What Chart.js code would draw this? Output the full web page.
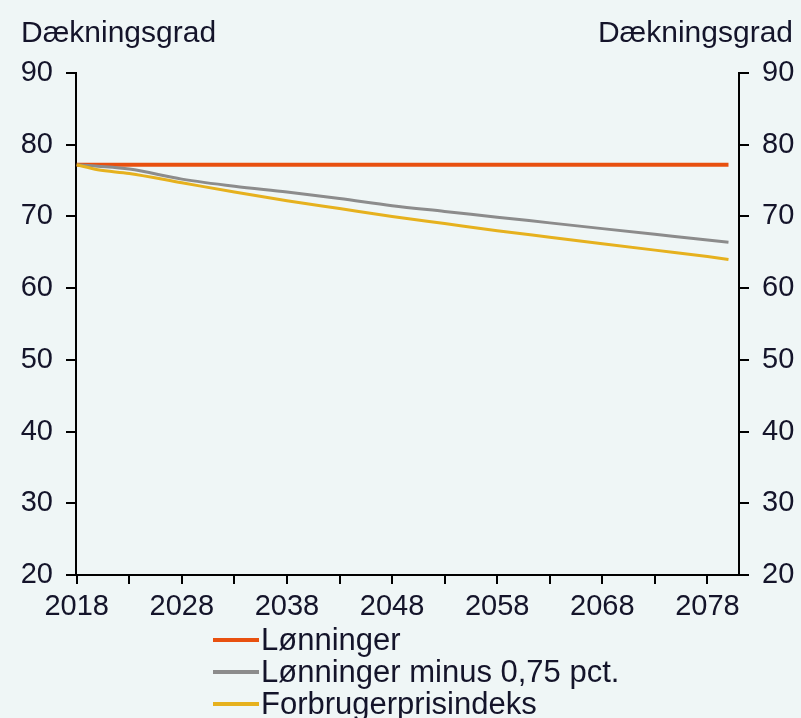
<!DOCTYPE html>
<html>
<head>
<meta charset="utf-8">
<script src="https://cdn.jsdelivr.net/npm/chart.js@4/dist/chart.umd.min.js"></script>
<style>
  html, body { margin: 0; padding: 0; background: #eff6f6; }
  #wrap { width: 801px; height: 718px; }
</style>
</head>
<body>
<div id="wrap"><canvas id="chart" width="801" height="718"></canvas></div>
<script>
// Dækningsgrad, pct.
const years = [2018, 2020, 2023, 2028, 2033, 2038, 2043, 2048, 2053, 2058, 2063, 2068, 2073, 2078, 2080];
const lonninger = [77.2, 77.2, 77.2, 77.2, 77.2, 77.2, 77.2, 77.2, 77.2, 77.2, 77.2, 77.2, 77.2, 77.2, 77.2];
const lonningerMinus = [77.2, 77.0, 76.6, 75.2, 74.2, 73.4, 72.5, 71.5, 70.7, 69.9, 69.1, 68.3, 67.5, 66.7, 66.4];
const forbrugerpris = [77.2, 76.5, 76.0, 74.7, 73.4, 72.2, 71.1, 70.0, 69.0, 68.0, 67.1, 66.2, 65.3, 64.4, 64.0];

const xTickYears = [2018, 2023, 2028, 2033, 2038, 2043, 2048, 2053, 2058, 2063, 2068, 2073, 2078];
const xLabelYears = [2018, 2028, 2038, 2048, 2058, 2068, 2078];

const seriesNames = ['Lønninger', 'Lønninger minus 0,75 pct.', 'Forbrugerprisindeks'];
const seriesColors = ['#e8500f', '#8c8c8c', '#e6b11e'];
const axisTitle = 'Dækningsgrad';

const FONT = 'Liberation Sans, Arial, sans-serif';
const TXT = '#14142a';

const toPoints = vals => vals.map((v, i) => ({ x: years[i], y: v }));

const bgPlugin = {
    id: 'bg',
    beforeDraw(chart) {
        const c = chart.ctx;
        c.save();
        c.fillStyle = '#eff6f6';
        c.fillRect(0, 0, chart.width, chart.height);
        c.restore();
    }
};

// titles over the axes + legend under the chart
const textPlugin = {
    id: 'texts',
    afterDraw(chart) {
        const c = chart.ctx;
        c.save();
        c.fillStyle = TXT;
        c.font = '30px ' + FONT;
        c.textBaseline = 'alphabetic';
        c.textAlign = 'left';
        c.fillText(axisTitle, 21, 42);
        c.textAlign = 'right';
        c.fillText(axisTitle, 793, 42);

        c.textAlign = 'left';
        c.textBaseline = 'middle';
        c.font = '31px ' + FONT;
        chart.data.datasets.forEach((ds, i) => {
            const y = 640 + i * 32;
            c.strokeStyle = ds.borderColor;
            c.lineWidth = 4;
            c.beginPath();
            c.moveTo(213, y);
            c.lineTo(259, y);
            c.stroke();
            c.fillStyle = TXT;
            c.fillText(ds.label, 261, y + 1);
        });
        c.restore();
    }
};

const yTicks = {
    stepSize: 10,
    color: TXT,
    padding: 13,
    font: { family: FONT, size: 29 }
};

new Chart(document.getElementById('chart'), {
    type: 'line',
    data: {
        datasets: [
            { label: seriesNames[0], data: toPoints(lonninger), borderColor: seriesColors[0], borderWidth: 4, order: 3 },
            { label: seriesNames[1], data: toPoints(lonningerMinus), borderColor: seriesColors[1], borderWidth: 3, order: 2 },
            { label: seriesNames[2], data: toPoints(forbrugerpris), borderColor: seriesColors[2], borderWidth: 3, order: 1 }
        ]
    },
    options: {
        responsive: false,
        animation: false,
        layout: { padding: { top: 73, left: 0, right: 0, bottom: 0 } },
        elements: {
            point: { radius: 0 },
            line: { cubicInterpolationMode: 'monotone' }
        },
        plugins: {
            legend: { display: false },
            tooltip: { enabled: false }
        },
        scales: {
            x: {
                type: 'linear',
                min: 2017.93,
                max: 2081,
                afterBuildTicks: s => { s.ticks = xTickYears.map(v => ({ value: v })); },
                afterFit: s => { s.height = 143; },
                ticks: {
                    autoSkip: false,
                    maxRotation: 0,
                    color: TXT,
                    padding: 6,
                    font: { family: FONT, size: 29 },
                    callback: v => (xLabelYears.includes(v) ? String(v) : '')
                },
                grid: { drawOnChartArea: false, tickLength: 9, color: '#000', lineWidth: 2 },
                border: { color: '#000', width: 2 }
            },
            y: {
                position: 'left',
                min: 20,
                max: 90,
                afterFit: s => { s.width = 76; },
                ticks: yTicks,
                grid: { drawOnChartArea: false, tickLength: 10, color: '#000', lineWidth: 2 },
                border: { color: '#000', width: 2 }
            },
            y2: {
                position: 'right',
                min: 20,
                max: 90,
                afterFit: s => { s.width = 62; },
                ticks: yTicks,
                grid: { drawOnChartArea: false, tickLength: 10, color: '#000', lineWidth: 2 },
                border: { color: '#000', width: 2 }
            }
        }
    },
    plugins: [bgPlugin, textPlugin]
});
</script>
</body>
</html>
